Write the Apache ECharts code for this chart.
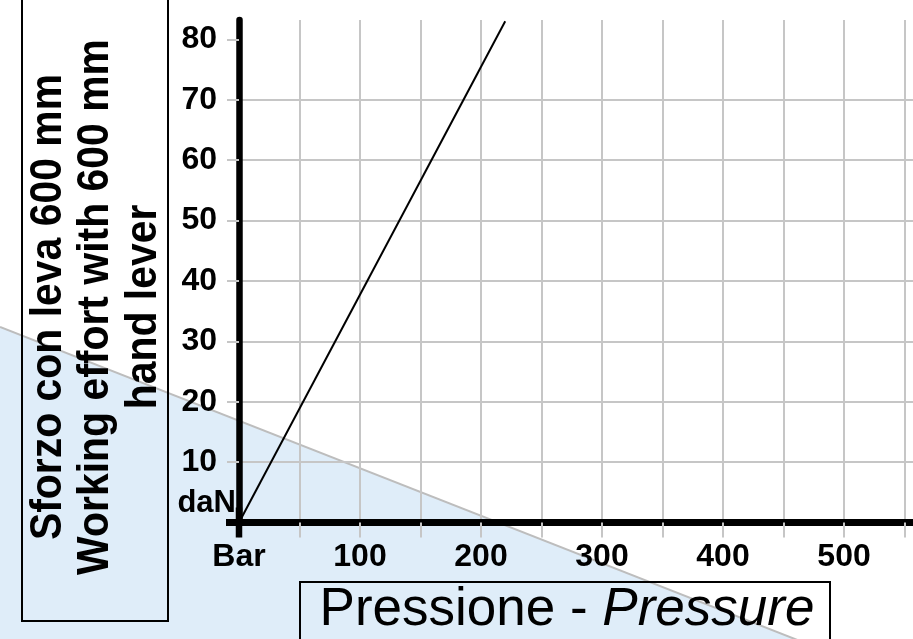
<!DOCTYPE html>
<html>
<head>
<meta charset="utf-8">
<script src="https://cdn.jsdelivr.net/npm/echarts@6/dist/echarts.min.js"></script>
<style>html,body{margin:0;padding:0;background:#fff}#c{width:913px;height:639px}</style>
</head>
<body>
<div id="c"></div>
<script>
// Data
const pressure = [0, 220];          // Bar
const effort = [0, 83];             // daN
const xLabelValues = [0, 100, 200, 300, 400, 500];
const xLabelTexts = ['Bar', '100', '200', '300', '400', '500'];
const yTickValues = [0, 10, 20, 30, 40, 50, 60, 70, 80];
const yUnitLabel = 'daN';
const yTitle = 'Sforzo con leva 600 mm\nWorking effort with 600 mm\nhand lever';
const xTitleMain = 'Pressione - ';
const xTitleItalic = 'Pressure';

const FONT = '"Liberation Sans", Arial, Helvetica, sans-serif';
const GRIDC = '#c6c6c6';

const chart = echarts.init(document.getElementById('c'));
chart.setOption({
  backgroundColor: '#ffffff',
  animation: false,
  grid: { left: 239, right: 0, top: 20, bottom: 116.5, containLabel: false, outerBoundsMode: 'none' },
  xAxis: {
    type: 'value', min: 0, max: 557, interval: 50,
    axisLine: { show: true, onZero: false, symbol: ['rect', 'none'], symbolSize: [7, 26],
      lineStyle: { color: '#000', width: 7, cap: 'round' } },
    axisTick: { show: true, length: 15, lineStyle: { color: GRIDC, width: 2 } },
    splitLine: { show: true, showMaxLine: false, lineStyle: { color: GRIDC, width: 2 } },
    axisLabel: {
      show: true, margin: 19, showMaxLabel: false,
      fontFamily: FONT, fontWeight: 'bold', fontSize: 32, color: '#000',
      formatter: function (v) {
        const i = xLabelValues.indexOf(v);
        return i >= 0 ? xLabelTexts[i] : '';
      }
    }
  },
  yAxis: {
    type: 'value', min: 0, max: 83.2, interval: 10,
    axisLine: { show: true, onZero: false, symbol: ['rect', 'none'], symbolSize: [6.5, 30],
      lineStyle: { color: '#000', width: 6.5, cap: 'round' } },
    axisTick: { show: true, length: 12, customValues: yTickValues, lineStyle: { color: GRIDC, width: 2 } },
    splitLine: { show: true, showMinLine: true, showMaxLine: false, lineStyle: { color: GRIDC, width: 2 } },
    axisLabel: {
      show: true, margin: 3, showMaxLabel: false,
      fontFamily: FONT, fontWeight: 'bold', fontSize: 32, color: '#000',
      formatter: function (v) {
        if (v === 0) return '{u|' + yUnitLabel + '}';
        if (yTickValues.indexOf(v) >= 0) return '{n|' + v + '}';
        return '';
      },
      rich: {
        n: { fontFamily: FONT, fontWeight: 'bold', fontSize: 32, color: '#000', padding: [0, 19, 0, 0] },
        u: { fontFamily: FONT, fontWeight: 'bold', fontSize: 31, color: '#000', padding: [0, 0, 38, 0] }
      }
    }
  },
  graphic: [
    {
      type: 'polygon', z: -5, silent: true,
      shape: { points: [[0, 327], [800, 641], [0, 641]] },
      style: { fill: '#dfedf9', stroke: null }
    },
    {
      type: 'polyline', z: -4, silent: true,
      shape: { points: [[0, 327], [800, 641]] },
      style: { stroke: '#bdbdbd', lineWidth: 2, fill: null }
    },
    {
      type: 'rect', z: 10, silent: true,
      shape: { x: 22, y: -5, width: 146, height: 626 },
      style: { fill: 'transparent', stroke: '#000', lineWidth: 2 }
    },
    {
      type: 'text', z: 11, silent: true,
      x: 96, y: 307, rotation: Math.PI / 2, scaleX: 0.93, scaleY: 1,
      style: {
        text: yTitle, fontFamily: FONT, fontWeight: 'bold', fontSize: 44,
        lineHeight: 47.5, fill: '#000', align: 'center', verticalAlign: 'middle'
      }
    },
    {
      type: 'rect', z: 10, silent: true,
      shape: { x: 300, y: 582, width: 530, height: 70 },
      style: { fill: 'transparent', stroke: '#000', lineWidth: 2 }
    },
    {
      type: 'text', z: 11, silent: true,
      x: 567, y: 610,
      style: {
        text: '{a|' + xTitleMain + '}{b|' + xTitleItalic + '}',
        rich: {
          a: { fontFamily: FONT, fontSize: 53, fill: '#000', fontStyle: 'normal' },
          b: { fontFamily: FONT, fontSize: 53, fill: '#000', fontStyle: 'italic' }
        },
        fontFamily: FONT, fontSize: 53, fill: '#000',
        align: 'center', verticalAlign: 'middle'
      }
    }
  ],
  series: [{
    type: 'line',
    data: pressure.map((p, i) => [p, effort[i]]),
    showSymbol: false, symbol: 'none',
    lineStyle: { color: '#000', width: 2 },
    z: 5
  }]
});
</script>
</body>
</html>
